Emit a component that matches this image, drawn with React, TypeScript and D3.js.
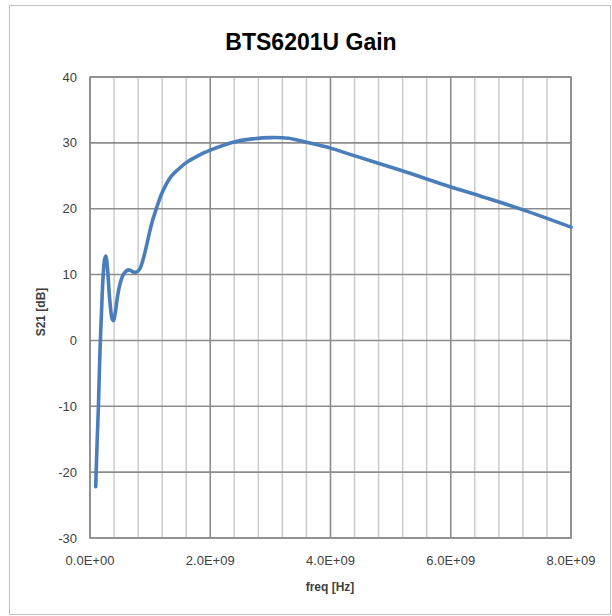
import React from "react";
import * as d3 from "d3";

const freqGHz = [0.095, 0.12, 0.14, 0.165, 0.19, 0.22, 0.245, 0.265, 0.29, 0.33, 0.37, 0.39, 0.42, 0.46, 0.5, 0.55, 0.61, 0.66, 0.72, 0.78, 0.83, 0.88, 0.93, 0.98, 1.04, 1.11, 1.18, 1.25, 1.35, 1.47, 1.6, 1.75, 1.9, 2.0, 2.38, 2.7, 3.0, 3.3, 3.6, 3.83, 4.0, 4.38, 5.18, 6.0, 6.5, 7.18, 8.0];
const gainDb = [-22.2, -15, -10, -2, 4, 10, 12.4, 12.8, 11, 6, 3.2, 3.0, 4.2, 6.8, 8.6, 9.9, 10.6, 10.7, 10.4, 10.4, 10.9, 12.2, 14.0, 16.0, 18.2, 20.2, 22.0, 23.4, 24.9, 26.0, 27.0, 27.8, 28.5, 28.9, 30.1, 30.6, 30.8, 30.7, 30.1, 29.6, 29.2, 28.1, 25.8, 23.3, 21.9, 19.9, 17.2];

const yTicks = [-30, -20, -10, 0, 10, 20, 30, 40];
const xMajorTicks = [0, 2e9, 4e9, 6e9, 8e9];
const xTickLabels = ["0.0E+00", "2.0E+09", "4.0E+09", "6.0E+09", "8.0E+09"];
const xMinorTicks = d3.range(0, 8e9 + 1, 0.4e9);

const title = "BTS6201U Gain";
const xTitle = "freq [Hz]";
const yTitle = "S21 [dB]";

export default function App() {
  const left = 90, right = 571, top = 77, bottom = 538;
  const x = d3.scaleLinear().domain([0, 8e9]).range([left, right]);
  const y = d3.scaleLinear().domain([-30, 40]).range([bottom, top]);
  const data = freqGHz.map((f, i) => [f * 1e9, gainDb[i]] as [number, number]);
  const line = d3.line<[number, number]>().x(d => x(d[0])).y(d => y(d[1])).curve(d3.curveCatmullRom.alpha(0.5));
  const font = "Liberation Sans, Arial, sans-serif";
  return (
    <svg width={612} height={616} style={{ position: "absolute", left: 0, top: 0 }}>
      <rect x={0} y={0} width={612} height={616} fill="#fff" />
      <rect x={9.5} y={5.5} width={601} height={609} fill="#fff" stroke="#c0c0c0" strokeWidth={1} />
      {xMinorTicks.map((t, i) => (
        <line key={"xm" + i} x1={x(t)} x2={x(t)} y1={top} y2={bottom}
          stroke={i % 5 === 0 ? "#8c8c8c" : "#c8c8c8"} strokeWidth={i % 5 === 0 ? 1.6 : 1.4} />
      ))}
      {yTicks.map((t, i) => (
        <line key={"y" + i} x1={left} x2={right} y1={y(t)} y2={y(t)} stroke="#8c8c8c" strokeWidth={1.6} />
      ))}
      <rect x={left} y={top} width={right - left} height={bottom - top} fill="none" stroke="#8c8c8c" strokeWidth={1.6} />
      <path d={line(data) || ""} fill="none" stroke="#4a7ebb" strokeWidth={3.6} strokeLinejoin="round" strokeLinecap="round" />
      {yTicks.map((t, i) => (
        <text key={"yl" + i} x={77} y={y(t)} dy="0.35em" textAnchor="end" fontFamily={font} fontSize={13} fill="#404040">{t}</text>
      ))}
      {xMajorTicks.map((t, i) => (
        <text key={"xl" + i} x={x(t)} y={560} dy="0.35em" textAnchor="middle" fontFamily={font} fontSize={13} fill="#404040">{xTickLabels[i]}</text>
      ))}
      <text x={311} y={42} dy="0.35em" textAnchor="middle" fontFamily={font} fontWeight="bold" fontSize={23} fill="#000">{title}</text>
      <text x={330} y={587} dy="0.35em" textAnchor="middle" fontFamily={font} fontWeight="bold" fontSize={12} fill="#404040">{xTitle}</text>
      <text transform={`translate(41,312) rotate(-90)`} dy="0.35em" textAnchor="middle" fontFamily={font} fontWeight="bold" fontSize={12} fill="#404040">{yTitle}</text>
    </svg>
  );
}
